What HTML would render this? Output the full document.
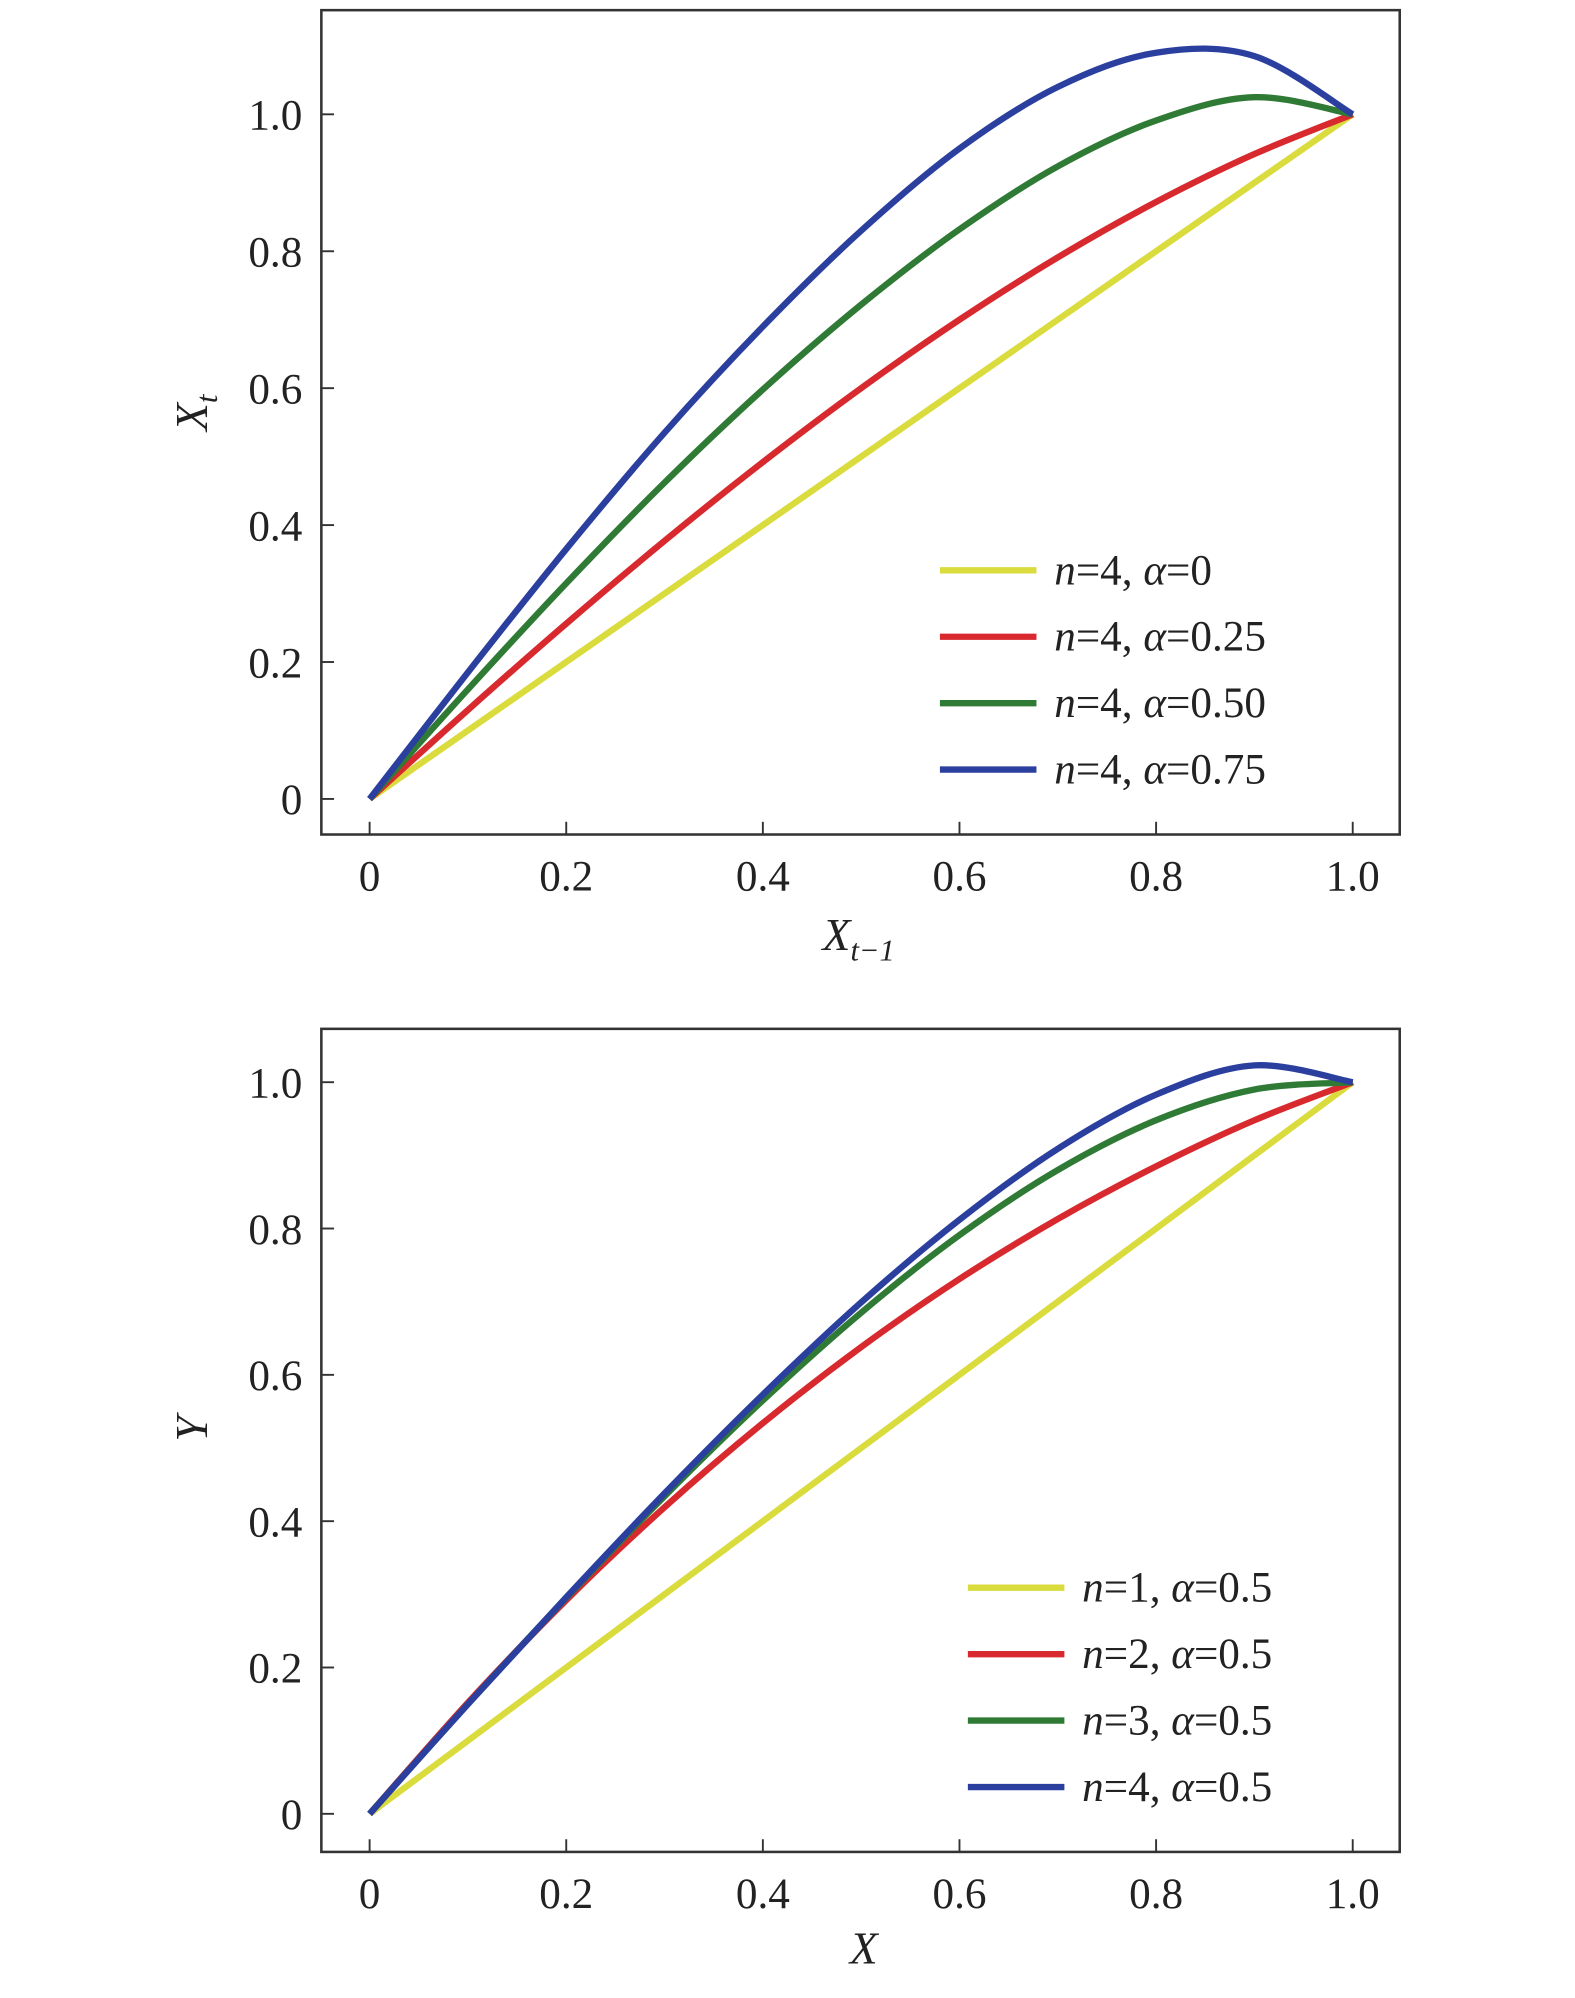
<!DOCTYPE html>
<html><head><meta charset="utf-8"><style>
html,body{margin:0;padding:0;background:#fff;}
svg{display:block;}
text{font-family:"Liberation Serif",serif;fill:#222;}
</style></head><body>
<svg id="fig" width="1575" height="1998" viewBox="0 0 1240 1573" preserveAspectRatio="none">
</svg>
<script>
const xs = [0,0.1,0.2,0.3,0.4,0.5,0.6,0.7,0.8,0.9,1.0];
const topYellow = [0,0.1,0.2,0.3,0.4,0.5,0.6,0.7,0.8,0.9,1.0];
const topRed    = [0,0.13,0.256,0.377,0.492,0.6,0.7,0.791,0.872,0.942,1.0];
const topGreen  = [0,0.16,0.315,0.462,0.598,0.722,0.832,0.924,0.991,1.025,1.0];
const topBlue   = [0,0.185,0.365,0.535,0.69,0.83,0.95,1.04,1.09,1.085,1.0];
const botYellow = [0,0.1,0.2,0.3,0.4,0.5,0.6,0.7,0.8,0.9,1.0];
const botRed    = [0,0.152,0.292,0.419,0.534,0.638,0.731,0.813,0.885,0.948,1.0];
const botGreen  = [0,0.15,0.295,0.434,0.565,0.685,0.791,0.88,0.948,0.99,1.0];
const botBlue   = [0,0.15,0.296,0.438,0.573,0.699,0.812,0.909,0.983,1.023,1.0];
const xTicks = ["0","0.2","0.4","0.6","0.8","1.0"];
const yTicks = ["0","0.2","0.4","0.6","0.8","1.0"];
const topLegend = ["n=4, |α=0","n=4, |α=0.25","n=4, |α=0.50","n=4, |α=0.75"];
const botLegend = ["n=1, |α=0.5","n=2, |α=0.5","n=3, |α=0.5","n=4, |α=0.5"];
const colors = ["#d9dc3c","#d82a2e","#2f7a34","#2b3f9e"];

const NS="http://www.w3.org/2000/svg";
const svg=document.getElementById('fig');
function mk(tag,attrs,parent){const e=document.createElementNS(NS,tag);for(const k in attrs)e.setAttribute(k,attrs[k]);(parent||svg).appendChild(e);return e;}
function smooth(pts){let d=`M${pts[0][0]},${pts[0][1]}`;for(let i=0;i<pts.length-1;i++){const p0=pts[Math.max(0,i-1)],p1=pts[i],p2=pts[i+1],p3=pts[Math.min(pts.length-1,i+2)];const c1=[p1[0]+(p2[0]-p0[0])/6,p1[1]+(p2[1]-p0[1])/6],c2=[p2[0]-(p3[0]-p1[0])/6,p2[1]-(p3[1]-p1[1])/6];d+=` C${c1[0]},${c1[1]} ${c2[0]},${c2[1]} ${p2[0]},${p2[1]}`;}return d;}

function panel(cfg){
  const g=mk('g',{});
  
  
  const X=v=>291+v*(1065-291);
  const Y=v=>cfg.y0+v*(cfg.y1-cfg.y0);
  const box=mk('rect',{x:253,y:cfg.top,width:849,height:cfg.bottom-cfg.top,fill:'none',stroke:'#333','stroke-width':2},g);
  
  
  xTicks.forEach((t,i)=>{const e=mk('text',{x:X(i*0.2),y:cfg.bottom+44,'font-size':34,'text-anchor':'middle'},g);e.textContent=t;
    
    
    const tk=mk('line',{x1:X(i*0.2),x2:X(i*0.2),y1:cfg.bottom,y2:cfg.bottom-10,stroke:'#333','stroke-width':1.5},g);
    
    });
  yTicks.forEach((t,i)=>{const e=mk('text',{x:238,y:Y(i*0.2)+12,'font-size':34,'text-anchor':'end'},g);e.textContent=t;
    
    
    const tk=mk('line',{x1:253,x2:263,y1:Y(i*0.2),y2:Y(i*0.2),stroke:'#333','stroke-width':1.5},g);
    
    });
  cfg.series.forEach((s,k)=>{const p=mk('path',{d:smooth(xs.map((x,i)=>[X(x),Y(s[i])])),fill:'none',stroke:colors[k],'stroke-width':5},g);
    
    });
  cfg.legend.forEach((l,k)=>{const ly=cfg.ly+k*52.3;
    const ln=mk('line',{x1:cfg.lx,x2:cfg.lx+76,y1:ly,y2:ly,stroke:colors[k],'stroke-width':5},g);
    
    
    const parts=l.split('|');
    const t=mk('text',{x:cfg.lx+90,y:ly+11,'font-size':34},g);
    
    
    const a=mk('tspan',{'font-style':'italic'},t);a.textContent='n';
    const b=mk('tspan',{},t);b.textContent=parts[0].slice(1);
    const c=mk('tspan',{'font-style':'italic'},t);c.textContent='α';
    const d=mk('tspan',{},t);d.textContent=parts[1].slice(1);
  });
}
panel({name:'top-chart',top:8,bottom:657,y0:629,y1:90,series:[topYellow,topRed,topGreen,topBlue],legend:topLegend,lx:740,ly:449});
panel({name:'bottom-chart',top:810,bottom:1458,y0:1428,y1:852,series:[botYellow,botRed,botGreen,botBlue],legend:botLegend,lx:762,ly:1250});
</script>
<script>
(function(){
const NS="http://www.w3.org/2000/svg";const svg=document.getElementById('fig');
function T(x,y,html,rot,name){const t=document.createElementNS(NS,'text');t.setAttribute('x',x);t.setAttribute('y',y);t.setAttribute('font-size',36);t.setAttribute('font-style','italic');t.setAttribute('text-anchor','middle');if(rot)t.setAttribute('transform',`rotate(-90 ${x} ${y})`);t.innerHTML=html;


svg.appendChild(t);}
T(163,325,'X<tspan font-size="24" dy="8">t</tspan>',true,'y-axis-title-top');
T(676,748,'X<tspan font-size="24" dy="8">t−1</tspan>',false,'x-axis-title-top');
T(163,1125,'Y',true,'y-axis-title-bottom');
T(680,1546,'X',false,'x-axis-title-bottom');
})();
</script>
</body></html>
